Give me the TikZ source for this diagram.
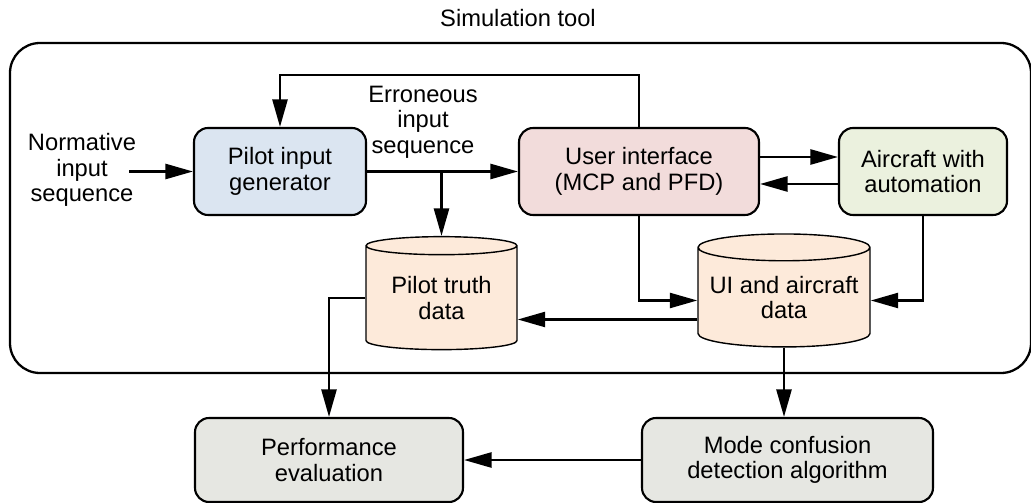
\documentclass[tikz,border=0pt]{standalone}
\usepackage{fontspec}
\setmainfont{Liberation Sans}
\usetikzlibrary{shapes.geometric,arrows.meta,positioning,calc}

\definecolor{pilotblue}{HTML}{DBE5F1}
\definecolor{uipink}{HTML}{F2DCDB}
\definecolor{acgreen}{HTML}{EBF1DE}
\definecolor{datapeach}{HTML}{FDEADA}
\definecolor{evalgray}{HTML}{E6E7E2}

\begin{document}
\begin{tikzpicture}[
  x=0.02cm, y=-0.02cm,
  font=\fontsize{13.5}{14.5}\selectfont,
  box/.style={rectangle, draw, line width=1.2pt, rounded corners=0.28cm, minimum height=1.74cm, align=center, inner sep=0pt},
  store/.style={cylinder, shape border rotate=90, draw, line width=0.8pt, fill=datapeach, aspect=0.18, minimum height=2.26cm, align=center, inner sep=0pt},
  lbl/.style={align=center, inner sep=0pt},
  arrow/.style={-{Triangle[length=0.55cm, width=0.3cm]}, line width=1.4pt}
]
\useasboundingbox (0,0) rectangle (1031,503);
\node[lbl] (title) at (518,18) {Simulation tool};
\draw[line width=1.3pt, rounded corners=0.6cm] (10,43) rectangle (1031,373);

\node[box, fill=pilotblue, minimum width=3.44cm] (pig) at (280,171.5) {Pilot input\\generator};
\node[box, fill=uipink, minimum width=4.8cm] (ui) at (639,171.5) {User interface\\(MCP and PFD)};
\node[box, fill=acgreen, minimum width=3.36cm] (ac) at (923,171.5) {Aircraft with\\automation};
\node[store, minimum width=3.02cm] (ptd) at (441.5,298) {Pilot truth\\data};
\node[store, minimum width=3.44cm] (uad) at (784,297.5) {UI and aircraft\\data};
\node[box, fill=evalgray, minimum width=5.36cm, minimum height=1.68cm] (pe) at (329,460) {Performance\\evaluation};
\node[box, fill=evalgray, minimum width=5.82cm, minimum height=1.68cm] (mcd) at (787.5,460) {Mode confusion\\detection algorithm};
\node[lbl] (nis) at (82,170) {Normative\\input\\sequence};
\node[lbl] (eis) at (423,122) {Erroneous\\input\\sequence};

\coordinate (fb) at (0,75);
\draw[arrow] ([xshift=-0.14cm]nis.east |- pig.west) -- (pig.west);
\draw[arrow] (ui.north) -- (ui.north |- fb) -| (pig.north);
\draw[arrow] (pig) -- (ui);
\draw[arrow] (ptd.north |- pig.east) -- (ptd.north);
\draw[arrow] ([yshift=0.29cm]ui.east) -- ([yshift=0.29cm]ac.west);
\draw[arrow] ([yshift=-0.25cm]ac.west) -- ([yshift=-0.25cm]ui.east);
\draw[arrow] (ui.south) |- ([yshift=-0.06cm]uad.west);
\draw[arrow] (ac.south) |- ([yshift=-0.06cm]uad.east);
\draw[arrow] ([yshift=-0.44cm]uad.west) -- ([yshift=-0.44cm]uad.west -| ptd.east);
\draw[arrow] (ptd.west) -| (pe.north);
\draw[arrow] (uad.south) -- (uad.south |- mcd.north);
\draw[arrow] (mcd) -- (pe);
\end{tikzpicture}
\end{document}
